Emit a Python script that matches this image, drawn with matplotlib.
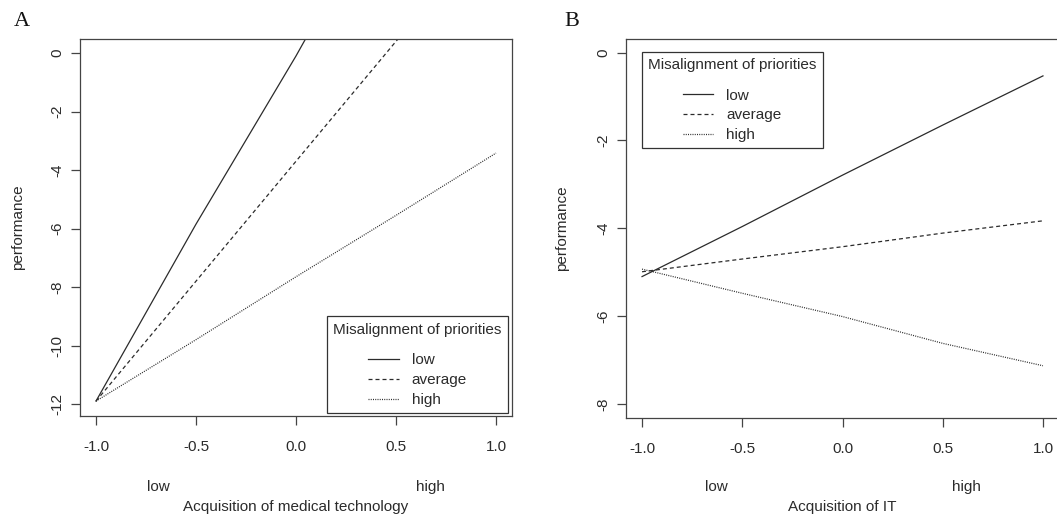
import numpy as np
import matplotlib
matplotlib.use("Agg")
from matplotlib import pyplot as plt

plt.rcParams['font.family'] = ['Liberation Sans', 'DejaVu Sans']
plt.rcParams['font.size'] = 11

# values
x_pts = [-1.0, -0.5, 0.0, 0.5, 1.0]
levels = ["low", "average", "high"]

# panel A: Acquisition of medical technology
medtech_low = [-11.9, -5.85, -0.1, 6.0, 12.1]
medtech_avg = [-11.9, -7.8, -3.7, 0.4, 4.4]
medtech_high = [-11.9, -9.8, -7.65, -5.55, -3.42]

# panel B: Acquisition of IT
it_low = [-5.1, -3.96, -2.79, -1.65, -0.53]
it_avg = [-4.99, -4.70, -4.42, -4.11, -3.83]
it_high = [-4.93, -5.48, -6.01, -6.62, -7.13]

xticks = [-1.0, -0.5, 0.0, 0.5, 1.0]
xticklabels = ["-1.0", "-0.5", "0.0", "0.5", "1.0"]

ink = '#2b2b2b'
styles = {"low": '-', "average": (0, (3.2, 2.4)), "high": (0, (0.8, 1.0))}

fig = plt.figure(figsize=(10.57, 5.14), dpi=100)
axA = fig.add_axes([80/1057, 1-416/514, 432/1057, 377/514])
axB = fig.add_axes([626/1057, 1-418/514, 433/1057, 379/514])

panels = [
    {"ax": axA, "data": [medtech_low, medtech_avg, medtech_high], "ylim": (-12.41, 0.48),
     "yticks": [-12, -10, -8, -6, -4, -2, 0], "xlabel": "Acquisition of medical technology",
     "letter": "A", "letter_x": 14, "lowhigh": (-0.69, 0.67), "loc": "lower right",
     "bbox": (0.99, 0.008), "ylab_x": -0.1435, "xlab_y": -0.241, "lh_y": -0.188},
    {"ax": axB, "data": [it_low, it_avg, it_high], "ylim": (-8.32, 0.31),
     "yticks": [-8, -6, -4, -2, 0], "xlabel": "Acquisition of IT",
     "letter": "B", "letter_x": 564, "lowhigh": (-0.63, 0.62), "loc": "upper left",
     "bbox": (0.037, 0.966), "ylab_x": -0.148, "xlab_y": -0.235, "lh_y": -0.182},
]

for p in panels:
    ax = p["ax"]
    for lev, vals in zip(levels, p["data"]):
        ax.plot(x_pts, vals, color=ink, lw=0.9, linestyle=styles[lev], label=lev)
    ax.set_xlim(-1.08, 1.08)
    ax.set_ylim(*p["ylim"])
    ax.set_xticks(xticks)
    ax.set_xticklabels(xticklabels)
    ax.set_yticks(p["yticks"])
    ax.set_yticklabels([str(v) for v in p["yticks"]], rotation=90, va='center')
    ax.tick_params(axis='both', direction='out', length=6.5, width=0.9, color='#444444',
                   labelcolor=ink, labelsize=11)
    ax.tick_params(axis='x', pad=11)
    ax.tick_params(axis='y', pad=4.5)
    for s in ax.spines.values():
        s.set_color('#444444')
        s.set_linewidth(0.9)
    ax.set_ylabel("performance", color=ink, va='center')
    ax.yaxis.set_label_coords(p["ylab_x"], 0.5)
    ax.set_xlabel(p["xlabel"], color=ink, va='center')
    ax.xaxis.set_label_coords(0.5, p["xlab_y"])
    trans = ax.get_xaxis_transform()
    ax.text(p["lowhigh"][0], p["lh_y"], "low", transform=trans, ha='center', va='center', color=ink)
    ax.text(p["lowhigh"][1], p["lh_y"], "high", transform=trans, ha='center', va='center', color=ink)
    leg = ax.legend(title="Misalignment of priorities", loc=p["loc"], bbox_to_anchor=p["bbox"],
                    fancybox=False, edgecolor='#333333', framealpha=1, fontsize=11,
                    title_fontsize=11, handlelength=2.0, handletextpad=0.85,
                    labelspacing=0.38, borderpad=0.4, borderaxespad=0.0)
    leg._legend_box.sep = 12
    leg.get_frame().set_linewidth(0.9)
    leg.get_title().set_color(ink)
    for t in leg.get_texts():
        t.set_color(ink)
    fig.text(p["letter_x"]/1057, 1-22/514, p["letter"], family='Liberation Serif',
             fontsize=16, ha='left', va='center', color='#111111')

fig.savefig("out.png", dpi=100)
